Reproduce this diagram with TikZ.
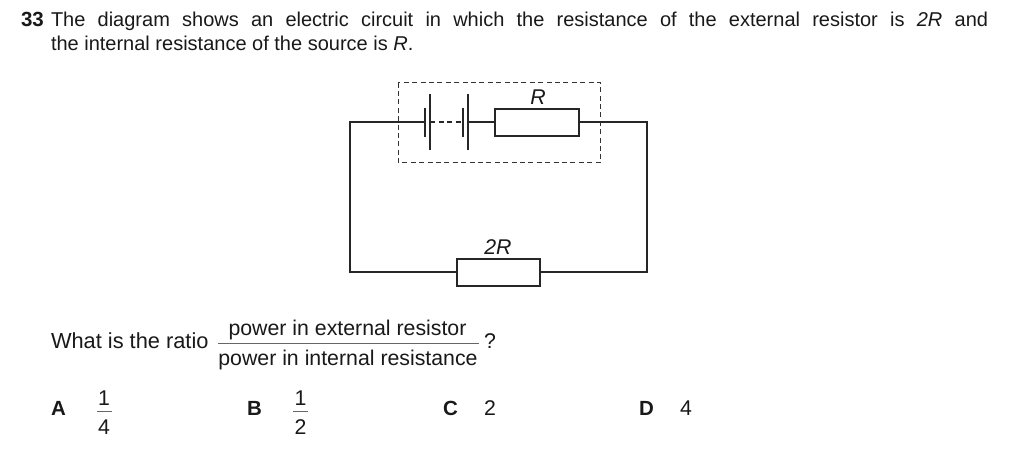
\documentclass[tikz,border=0pt]{standalone}
\usepackage{fontspec}
\setmainfont{Liberation Sans}
\tikzset{
  x=1pt,y=-1pt,
  wire/.style={line width=2pt,black!85},
  res/.style={draw=black!85,line width=2pt,fill=white,minimum width=83pt,minimum height=27pt,inner sep=0pt,outer sep=0pt},
  plate/.style={line width=2pt,black!85},
  txt/.style={inner sep=0pt,outer sep=0pt,font=\fontsize{20}{24}\selectfont,text=black!90,anchor=base west},
  big/.style={txt,font=\fontsize{21.3}{24}\selectfont},
  ctr/.style={inner sep=0pt,outer sep=0pt,font=\fontsize{21.3}{24}\selectfont,text=black!90,anchor=base},
  bold/.style={txt,font=\fontsize{20.5}{24}\selectfont\bfseries},
  bar/.style={line width=1pt,black!60},
  frame/.style={line width=1pt,black!80,dash pattern=on 5pt off 3.4pt}
}
\begin{document}
\begin{tikzpicture}
\useasboundingbox (0,0) rectangle (1024,453);
\fill[white] (0,0) rectangle (1024,453);
% question text
\node[bold] (num) at (21,26) {33};
\node[txt] (l1) at (51,26) {\makebox[937pt][s]{The diagram shows an electric circuit in which the resistance of the external resistor is \textit{2R} and}};
\node[txt] (l2) at (51,50.5) {the internal resistance of the source is \textit{R}.};
% circuit
\coordinate (tl) at (350,122.4);
\coordinate (tr) at (647,122.4);
\coordinate (bl) at (350,272.4);
\coordinate (br) at (647,272.4);
\node[res,minimum width=83.4pt,minimum height=26.7pt] (rint) at (537,122.4) {};
\node[res] (rext) at (498.5,272.4) {};
\coordinate (s1t) at (425.4,108); \coordinate (s1b) at (425.4,136.7);
\coordinate (l1t) at (430.4,94.3); \coordinate (l1b) at (430.4,150);
\coordinate (s2t) at (462.6,108); \coordinate (s2b) at (462.6,136.7);
\coordinate (l2t) at (467.6,94.3); \coordinate (l2b) at (467.6,150);
\coordinate (s1m) at (425.4,122.4);
\coordinate (l1m) at (430.4,122.4);
\coordinate (s2m) at (462.6,122.4);
\coordinate (l2m) at (467.6,122.4);
\draw[frame] (398.3,82.5) rectangle (600.7,162.5);
\draw[wire] (s1m) -- (tl) -- (bl) -- (rext.west);
\draw[wire] (rext.east) -- (br) -- (tr) -- (rint.east);
\draw[wire] (l2m) -- (rint.west);
\draw[plate] (s1t) -- (s1b);
\draw[plate] (l1t) -- (l1b);
\draw[plate] (s2t) -- (s2b);
\draw[plate] (l2t) -- (l2b);
\draw[wire,dash pattern=on 5pt off 3.4pt] (l1m) -- (s2m);
\node[ctr] (rl) at (538,104) {\textit{R}};
\node[ctr] (r2l) at (498,254) {\textit{2R}};
% ratio
\node[big,font=\fontsize{21.8}{24}\selectfont] (ask) at (51,348) {What is the ratio};
\node[ctr] (num1) at (347.5,335) {power in external resistor};
\node[ctr] (den1) at (348,365) {power in internal resistance};
\coordinate (fa) at (218,343); \coordinate (fb) at (479,343);
\draw[bar] (fa) -- (fb);
\node[big] (qm) at (484,348) {?};
% options
\node[bold] (a) at (51,415) {A};
\node[ctr] (a1) at (104,405) {1};
\draw[bar] (97,411) -- (112,411);
\node[ctr] (a2) at (104,434) {4};
\node[bold] (b) at (247,415) {B};
\node[ctr] (b1) at (300.5,405) {1};
\draw[bar] (293,411) -- (308,411);
\node[ctr] (b2) at (300.5,434) {2};
\node[bold] (c) at (443,415) {C};
\node[big] (c1) at (484,415) {2};
\node[bold] (d) at (639,415) {D};
\node[big] (d1) at (680,415) {4};
\end{tikzpicture}
\end{document}
